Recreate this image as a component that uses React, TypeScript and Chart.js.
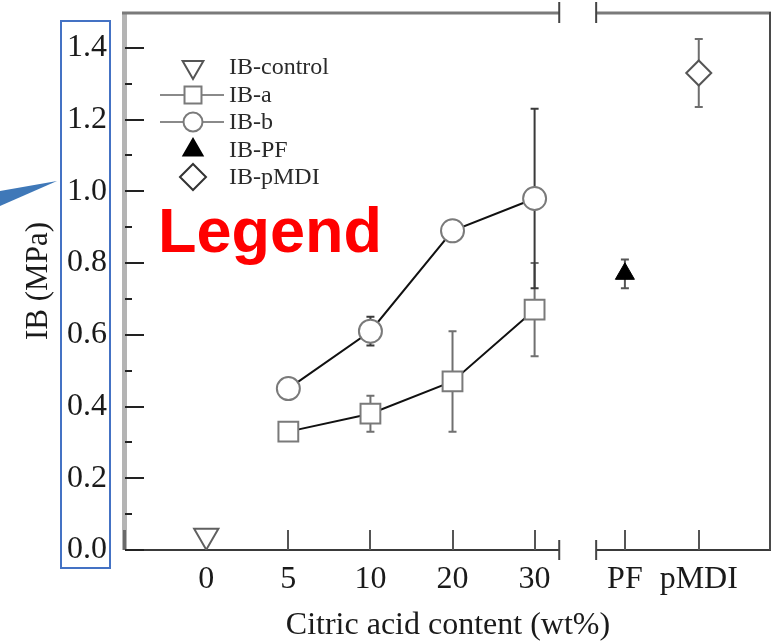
import React, { useEffect, useRef } from 'react';
import { Chart, registerables } from 'chart.js';

Chart.register(...registerables);

// ---- data ----
const categories = ['0', '5', '10', '20', '30', 'PF', 'pMDI'];
// slot of each category along the (broken) x axis
const categorySlot = [0, 1, 2, 3, 4, 5.1, 6];
const seriesNames = ['IB-control', 'IB-a', 'IB-b', 'IB-PF', 'IB-pMDI'];

const controlCats = ['0'];
const controlValues = [0.04];

const acidCats = ['5', '10', '20', '30'];
const ibAValues = [0.33, 0.38, 0.47, 0.67];
const ibAErrors = [0, 0.05, 0.14, 0.13];
const ibBValues = [0.45, 0.61, 0.89, 0.98];
const ibBErrors = [0, 0.04, 0, 0.25];

const pfCats = ['PF'];
const pfValues = [0.77];
const pfErrors = [0.04];

const pmdiCats = ['pMDI'];
const pmdiValues = [1.33];
const pmdiErrors = [0.095];

const yTickValues = [0, 0.2, 0.4, 0.6, 0.8, 1.0, 1.2, 1.4];
const yMinorValues = [0.1, 0.3, 0.5, 0.7, 0.9, 1.1, 1.3];
const xTickedCats = ['5', '10', '20', '30', 'PF', 'pMDI'];
const breakStart = 4.3;
const breakEnd = 4.75;

const xTitle = 'Citric acid content (wt%)';
const yTitle = 'IB (MPa)';
const annotationText = 'Legend';

const slotOf = (c: string) => categorySlot[categories.indexOf(c)];
const pts = (cats: string[], vals: number[]) => cats.map((c, i) => ({ x: slotOf(c), y: vals[i] }));

const SERIF = '"Liberation Serif", "Times New Roman", serif';

function marker(ctx: CanvasRenderingContext2D, style: string, x: number, y: number, r: number) {
  ctx.beginPath();
  if (style === 'triDown') {
    ctx.moveTo(x - r * 0.866, y - r / 2);
    ctx.lineTo(x + r * 0.866, y - r / 2);
    ctx.lineTo(x, y + r);
    ctx.closePath();
  } else if (style === 'triUp') {
    ctx.moveTo(x - r * 0.866, y + r / 2);
    ctx.lineTo(x + r * 0.866, y + r / 2);
    ctx.lineTo(x, y - r);
    ctx.closePath();
  } else if (style === 'rect') {
    const s = r * Math.SQRT1_2;
    ctx.rect(x - s, y - s, 2 * s, 2 * s);
  } else if (style === 'circle') {
    ctx.arc(x, y, r, 0, Math.PI * 2);
  } else if (style === 'diamond') {
    ctx.moveTo(x - r, y);
    ctx.lineTo(x, y - r);
    ctx.lineTo(x + r, y);
    ctx.lineTo(x, y + r);
    ctx.closePath();
  }
}

const zeroPad = (s: any) => {
  s.paddingTop = 0;
  s.paddingBottom = 0;
  s.paddingLeft = 0;
  s.paddingRight = 0;
};

const framePlugin = {
  id: 'frame',
  beforeDatasetsDraw(chart: any) {
    const { ctx, chartArea } = chart;
    const xs = chart.scales.x;
    const ys = chart.scales.y;
    const { left, right, top, bottom } = chartArea;
    const b1 = xs.getPixelForValue(breakStart);
    const b2 = xs.getPixelForValue(breakEnd);
    ctx.save();
    // left axis (grey band)
    ctx.fillStyle = '#b4b4b4';
    ctx.fillRect(left - 3, top, 5, bottom - top);
    ctx.fillStyle = '#6a6a6a';
    ctx.fillRect(left - 2, bottom - 20, 3, 20);
    // top line
    ctx.strokeStyle = '#7a7a7a';
    ctx.lineWidth = 3;
    ctx.beginPath();
    ctx.moveTo(left - 3, top + 1);
    ctx.lineTo(b1, top + 1);
    ctx.moveTo(b2, top + 1);
    ctx.lineTo(right, top + 1);
    ctx.stroke();
    // bottom line
    ctx.strokeStyle = '#3a3a3a';
    ctx.lineWidth = 2;
    ctx.beginPath();
    ctx.moveTo(left, bottom);
    ctx.lineTo(b1, bottom);
    ctx.moveTo(b2, bottom);
    ctx.lineTo(right, bottom);
    ctx.stroke();
    // right line
    ctx.strokeStyle = '#4a4a4a';
    ctx.lineWidth = 2;
    ctx.beginPath();
    ctx.moveTo(right - 1, top);
    ctx.lineTo(right - 1, bottom);
    ctx.stroke();
    // break bars
    ctx.strokeStyle = '#444';
    ctx.lineWidth = 2;
    ctx.beginPath();
    [b1, b2].forEach((bx) => {
      ctx.moveTo(bx, bottom - 10);
      ctx.lineTo(bx, bottom + 10);
      ctx.moveTo(bx, top - 10);
      ctx.lineTo(bx, top + 11);
    });
    ctx.stroke();
    // y ticks
    ctx.strokeStyle = '#222';
    ctx.lineWidth = 2;
    ctx.beginPath();
    yTickValues.forEach((v) => {
      const py = Math.round(ys.getPixelForValue(v));
      ctx.moveTo(left, py);
      ctx.lineTo(left + 19, py);
    });
    yMinorValues.forEach((v) => {
      const py = Math.round(ys.getPixelForValue(v));
      ctx.moveTo(left, py);
      ctx.lineTo(left + 7, py);
    });
    ctx.stroke();
    // x ticks (pointing up)
    ctx.strokeStyle = '#555';
    ctx.beginPath();
    xTickedCats.forEach((c) => {
      const px = Math.round(xs.getPixelForValue(slotOf(c)));
      ctx.moveTo(px, bottom);
      ctx.lineTo(px, bottom - 20);
    });
    ctx.stroke();
    // error bars
    chart.data.datasets.forEach((ds: any) => {
      if (!ds.errors) return;
      ctx.strokeStyle = ds.errorColor || '#6e6e6e';
      ctx.lineWidth = 2;
      ds.data.forEach((p: any, i: number) => {
        const e = ds.errors[i];
        if (!e) return;
        const px = xs.getPixelForValue(p.x);
        const y1 = ys.getPixelForValue(p.y + e);
        const y2 = ys.getPixelForValue(p.y - e);
        ctx.beginPath();
        ctx.moveTo(px, y1);
        ctx.lineTo(px, y2);
        ctx.moveTo(px - 4, y1);
        ctx.lineTo(px + 4, y1);
        ctx.moveTo(px - 4, y2);
        ctx.lineTo(px + 4, y2);
        ctx.stroke();
      });
    });
    ctx.restore();
  },
  afterDraw(chart: any) {
    const { ctx } = chart;
    ctx.save();
    // legend
    const rows = [67, 95, 122, 150, 177];
    const mx = 193;
    const styles = [
      { s: 'triDown', r: 12, fill: '#fff', stroke: '#555', line: false },
      { s: 'rect', r: 12, fill: '#fff', stroke: '#7a7a7a', line: true },
      { s: 'circle', r: 9.5, fill: '#fff', stroke: '#7a7a7a', line: true },
      { s: 'triUp', r: 11, fill: '#000', stroke: '#000', line: false },
      { s: 'diamond', r: 13, fill: '#fff', stroke: '#333', line: false },
    ];
    seriesNames.forEach((name, i) => {
      const y = rows[i];
      const st = styles[i];
      if (st.line) {
        ctx.strokeStyle = '#8a8a8a';
        ctx.lineWidth = 2;
        ctx.beginPath();
        ctx.moveTo(160, y);
        ctx.lineTo(224, y);
        ctx.stroke();
      }
      marker(ctx, st.s, mx, y, st.r);
      ctx.fillStyle = st.fill;
      ctx.fill();
      ctx.strokeStyle = st.stroke;
      ctx.lineWidth = 2;
      ctx.stroke();
      ctx.fillStyle = '#2a2a2a';
      ctx.font = `24px ${SERIF}`;
      ctx.textBaseline = 'middle';
      ctx.textAlign = 'left';
      ctx.fillText(name, 229, y + 1);
    });
    // annotation: blue box around y tick labels
    ctx.strokeStyle = '#4472C4';
    ctx.lineWidth = 2;
    ctx.strokeRect(61, 21, 49, 547);
    // callout wedge
    ctx.fillStyle = '#3f78b8';
    ctx.beginPath();
    ctx.moveTo(0, 191);
    ctx.lineTo(57, 181);
    ctx.lineTo(0, 206);
    ctx.closePath();
    ctx.fill();
    // red label
    ctx.fillStyle = '#ff0000';
    ctx.font = `bold 63px "Liberation Sans", Arial, sans-serif`;
    ctx.textBaseline = 'alphabetic';
    ctx.textAlign = 'left';
    ctx.fillText(annotationText, 158, 252);
    ctx.restore();
  },
};

export default function App() {
  const ref = useRef<HTMLCanvasElement | null>(null);
  useEffect(() => {
    if (!ref.current) return;
    const chart = new Chart(ref.current, {
      type: 'line',
      data: {
        datasets: [
          {
            label: seriesNames[0],
            data: pts(controlCats, controlValues),
            showLine: false,
            pointStyle: 'triangle',
            rotation: 180,
            pointRadius: 14,
            pointBackgroundColor: '#fff',
            pointBorderColor: '#606060',
            pointBorderWidth: 2,
          },
          {
            label: seriesNames[1],
            data: pts(acidCats, ibAValues),
            errors: ibAErrors,
            errorColor: '#707070',
            borderColor: '#111',
            borderWidth: 2,
            pointStyle: 'rect',
            pointRadius: 14,
            pointBackgroundColor: '#fff',
            pointBorderColor: '#7a7a7a',
            pointBorderWidth: 2,
          },
          {
            label: seriesNames[2],
            data: pts(acidCats, ibBValues),
            errors: ibBErrors,
            errorColor: '#3a3a3a',
            borderColor: '#111',
            borderWidth: 2,
            pointStyle: 'circle',
            pointRadius: 11.5,
            pointBackgroundColor: '#fff',
            pointBorderColor: '#7a7a7a',
            pointBorderWidth: 2,
          },
          {
            label: seriesNames[3],
            data: pts(pfCats, pfValues),
            errors: pfErrors,
            errorColor: '#555',
            showLine: false,
            pointStyle: 'triangle',
            pointRadius: 11,
            pointBackgroundColor: '#000',
            pointBorderColor: '#000',
            pointBorderWidth: 1,
          },
          {
            label: seriesNames[4],
            data: pts(pmdiCats, pmdiValues),
            errors: pmdiErrors,
            errorColor: '#6e6e6e',
            showLine: false,
            pointStyle: 'rectRot',
            pointRadius: 12.5,
            pointBackgroundColor: '#fff',
            pointBorderColor: '#555',
            pointBorderWidth: 2,
          },
        ] as any,
      },
      options: {
        animation: false,
        responsive: false,
        layout: { autoPadding: false, padding: { left: 0, right: 2, top: 12, bottom: 0 } },
        plugins: { legend: { display: false }, tooltip: { enabled: false } },
        scales: {
          x: {
            type: 'linear',
            min: -0.99,
            max: 6.88,
            grid: { display: false, drawTicks: false },
            border: { display: false },
            afterBuildTicks: (s: any) => {
              s.ticks = categorySlot.map((v) => ({ value: v }));
            },
            afterFit: (s: any) => {
              s.height = 92;
              zeroPad(s);
            },
            ticks: {
              autoSkip: false,
              maxRotation: 0,
              padding: 10,
              color: '#1a1a1a',
              font: { family: SERIF, size: 32 },
              callback: (_v: any, i: number) => categories[i],
            },
            title: {
              display: true,
              text: xTitle,
              color: '#1a1a1a',
              font: { family: SERIF, size: 32, lineHeight: 1 },
              padding: { top: 0, bottom: 0 },
            },
          },
          y: {
            type: 'linear',
            min: 0,
            max: 1.5,
            grid: { display: false, drawTicks: false },
            border: { display: false },
            afterBuildTicks: (s: any) => {
              s.ticks = yTickValues.map((v) => ({ value: v }));
            },
            afterFit: (s: any) => {
              s.width = 125;
              zeroPad(s);
            },
            ticks: {
              padding: 18,
              color: '#1a1a1a',
              font: { family: SERIF, size: 32 },
              callback: (v: any) => Number(v).toFixed(1),
            },
            title: {
              display: true,
              text: yTitle,
              color: '#1a1a1a',
              font: { family: SERIF, size: 31, lineHeight: 1.2 },
              padding: { top: 20, bottom: 0 },
            },
          },
        },
      } as any,
      plugins: [framePlugin],
    });
    return () => chart.destroy();
  }, []);
  return (
    <div style={{ position: 'fixed', left: 0, top: 0, width: 773, height: 642, background: '#fff' }}>
      <canvas ref={ref} width={773} height={642} style={{ width: 773, height: 642, display: 'block' }} />
    </div>
  );
}
